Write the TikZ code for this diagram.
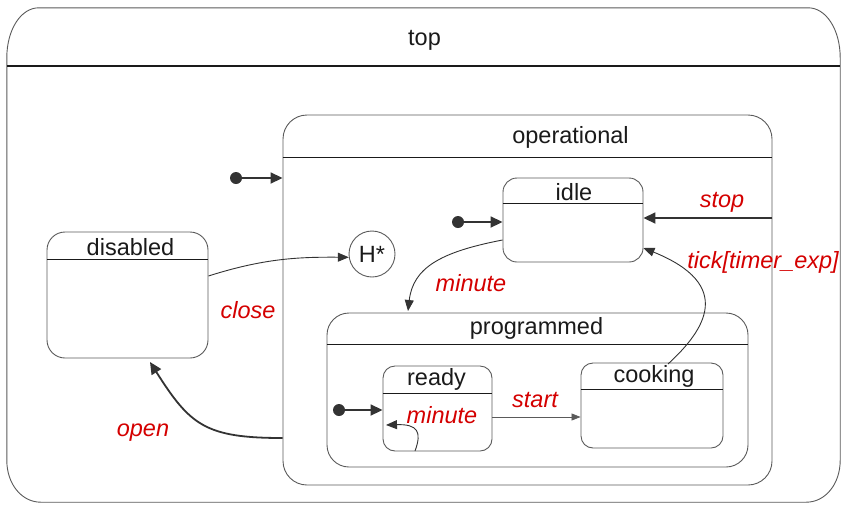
\documentclass[tikz,border=0pt]{standalone}
\usepackage{fontspec}
\setmainfont{Liberation Sans}
\usetikzlibrary{arrows.meta,calc}
\definecolor{edge}{HTML}{5A5A5A}
\definecolor{tipc}{HTML}{333333}
\definecolor{lbl}{HTML}{D40000}
\definecolor{txt}{HTML}{1A1A1A}
\begin{document}
\begin{tikzpicture}[x=1pt,y=-1pt,
  state/.style={draw=edge, line width=0.9pt, inner sep=0pt},
  hdr/.style={draw=txt, line width=#1},
  hdr/.default=1pt,
  title/.style={text=txt, font=\fontsize{23.5}{26}\selectfont, inner sep=0pt},
  evt/.style={text=lbl, font=\fontsize{23.5}{26}\selectfont\itshape, inner sep=0pt},
  initdot/.style={circle, fill=tipc, minimum size=12pt, inner sep=0pt},
  tr/.style={draw=tipc, line width=0.9pt, -{Triangle[length=11pt,width=9pt]}},
  trb/.style={draw=tipc, line width=1.8pt, -{Triangle[length=12pt,width=11pt]}},
  trs/.style={draw=edge, line width=0.8pt, -{Triangle[length=9pt,width=7pt]}}
]
\useasboundingbox (0,0) rectangle (845,504);

% states
\node[inner sep=0pt, minimum width=833pt, minimum height=494pt] (top) at (423.5,255) {};
\draw[draw=edge, line width=0.9pt]
  ($(top.north west)+(32,0)$) -- ($(top.north east)+(-32,0)$)
  .. controls ($(top.north east)+(-14,0)$) and ($(top.north east)+(0,22)$) .. ($(top.north east)+(0,50)$)
  -- ($(top.south east)+(0,-42)$)
  .. controls ($(top.south east)+(0,-18)$) and ($(top.south east)+(-15,0)$) .. ($(top.south east)+(-34,0)$)
  -- ($(top.south west)+(34,0)$)
  .. controls ($(top.south west)+(15,0)$) and ($(top.south west)+(0,-18)$) .. ($(top.south west)+(0,-42)$)
  -- ($(top.north west)+(0,50)$)
  .. controls ($(top.north west)+(0,22)$) and ($(top.north west)+(14,0)$) .. cycle;
\node[state, rounded corners=24pt, minimum width=489pt, minimum height=370pt] (op) at (527.5,300) {};
\node[state, rounded corners=14pt, minimum width=140pt, minimum height=84pt] (idle) at (573,220) {};
\node[state, rounded corners=18pt, minimum width=161pt, minimum height=126pt] (dis) at (127.5,295) {};
\node[state, rounded corners=22pt, minimum width=421pt, minimum height=154pt] (prog) at (537.5,390) {};
\node[state, rounded corners=12pt, minimum width=109pt, minimum height=85pt] (ready) at (437.5,408.5) {};
\node[state, rounded corners=12pt, minimum width=142pt, minimum height=85pt] (cook) at (652,405.5) {};
\node[state, circle, minimum size=46pt, title] (hist) at (372,254) {H*};

% header lines
\draw[hdr=1.8pt] ([yshift=-58pt]top.north west) -- ([yshift=-58pt]top.north east);
\draw[hdr=0.8pt] ([yshift=-43pt]op.north west) -- ([yshift=-43pt]op.north east);
\draw[hdr=1.6pt] ([yshift=-26pt]idle.north west) -- ([yshift=-26pt]idle.north east);
\draw[hdr=0.9pt] ([yshift=-28pt]dis.north west) -- ([yshift=-28pt]dis.north east);
\draw[hdr=1.8pt] ([yshift=-32pt]prog.north west) -- ([yshift=-32pt]prog.north east);
\draw[hdr=0.9pt] ([yshift=-28pt]ready.north west) -- ([yshift=-28pt]ready.north east);
\draw[hdr=0.9pt] ([yshift=-27pt]cook.north west) -- ([yshift=-27pt]cook.north east);

% titles
\node[title] (ttop) at ($(top.north)+(1,33)$) {top};
\node[title] (top_op) at ($(op.north)+(43,23)$) {operational};
\node[title] (tidle) at ($(idle.north)+(1,15)$) {idle};
\node[title] (tdis) at ($(dis.north)+(3,16)$) {disabled};
\node[title] (tprog) at ($(prog.north)+(-1,16)$) {programmed};
\node[title] (tready) at ($(ready.north)+(-1,14)$) {ready};
\node[title] (tcook) at ($(cook.north)+(2,14)$) {cooking};

% initial pseudo-states
\node[initdot] (i1) at (236,178) {};
\node[initdot] (i2) at (458,222) {};
\node[initdot] (i3) at (339,410) {};
\draw[trb] (i1) -- (i1 -| op.west);
\draw[trb] (i2) -- (i2 -| idle.west);
\draw[trb] (i3) -- (i3 -| ready.west);

% transitions
\coordinate (stopsrc) at (op.east |- 0,218);
\draw[trb] (stopsrc) -- (stopsrc -| idle.east);
\node[evt] (lstop) at (722,202) {stop};

\coordinate (closesrc) at (dis.east |- 0,276);
\draw[tr] (closesrc) .. controls (265,258) and (300,257) .. (hist.188);
\node[evt] (lclose) at (248,310) {close};

\coordinate (minsrc) at (idle.west |- 0,240);
\coordinate (mindst) at (408,311);
\draw[tr] (minsrc) .. controls (440,252) and (413,268) .. (mindst);
\node[evt] (lmin) at (471,283) {minute};

\coordinate (ticksrc) at (668,364);
\coordinate (tickdst) at (idle.east |- 0,248);
\draw[tr] (ticksrc) .. controls (705,330) and (735,285) .. (tickdst);
\node[evt] (ltick) at (763,262) {tick[timer\_exp]};

\coordinate (opensrc) at (op.west |- 0,438);
\coordinate (opendst) at (dis.south -| 0,150);
\draw[trb] (opensrc) .. controls (205,438) and (190,425) .. (150,362);
\node[evt] (lopen) at (143,433) {open};

\coordinate (startsrc) at (ready.east |- 0,417);
\draw[trs] (startsrc) -- (startsrc -| cook.west);
\node[evt] (lstart) at (535,400) {start};

\coordinate (loopsrc) at (415,451);
\coordinate (loopdst) at (386,425);
\draw[tr] (loopsrc) .. controls (422,432) and (418,424) .. (loopdst);
\node[evt] (lloop) at (442,415) {minute};
\end{tikzpicture}
\end{document}
